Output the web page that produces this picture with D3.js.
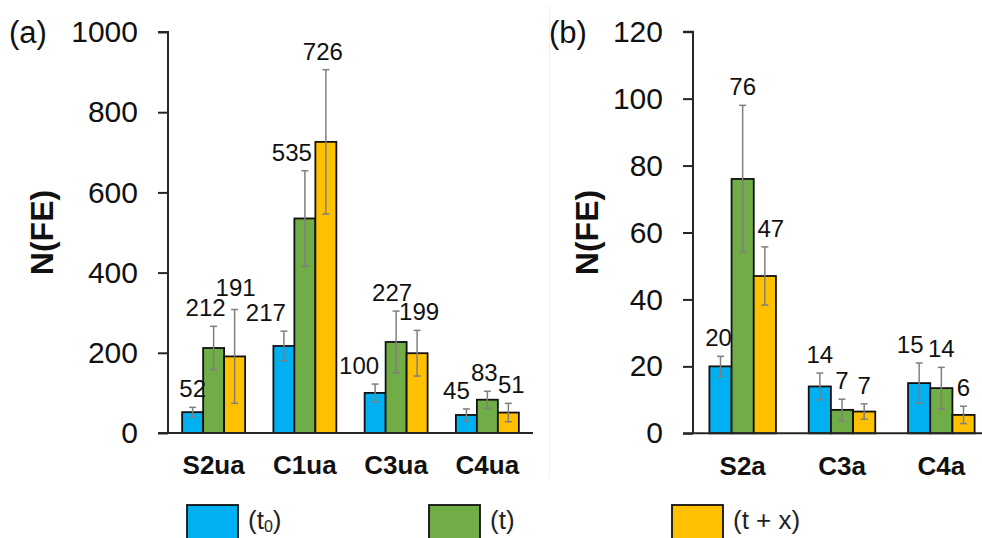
<!DOCTYPE html>
<html>
<head>
<meta charset="utf-8">
<script src="https://cdn.jsdelivr.net/npm/d3@7"></script>
<style>
  html, body { margin: 0; padding: 0; background: #fff; }
  svg { display: block; font-family: "Liberation Sans", Arial, sans-serif; }
</style>
</head>
<body>
<svg id="chart" width="982" height="538"></svg>
<script>
// ---------- data ----------
const seriesNames = ["(t0)", "(t)", "(t + x)"];
const seriesColors = ["#00B0F0", "#70AD47", "#FFC000"];

const catsA = ["S2ua", "C1ua", "C3ua", "C4ua"];
const t0A   = [52, 217, 100, 45];
const tA    = [212, 535, 227, 83];
const txA   = [191, 726, 199, 51];
const errT0A = [12, 37, 22, 15];
const errTA  = [54, 119, 77, 21];
const errTxA = [117, 180, 57, 23];
const ticksA = [0, 200, 400, 600, 800, 1000];

const catsB = ["S2a", "C3a", "C4a"];
const t0B   = [20, 14, 15];
const tB    = [76, 7, 13.5];
const txB   = [47, 6.5, 5.5];
const errT0B = [3, 4, 6];
const errTB  = [22, 3.2, 6.2];
const errTxB = [8.7, 2.3, 2.6];
const ticksB = [0, 20, 40, 60, 80, 100, 120];

// label nudges (px): x per category then series, and extra y lift
const nudgeA = [[0, -8, 1], [-18, -13, -3], [-16, -4, 2], [-10, -3, 3]];
const liftA  = [[0, 0, 3], [0, 0, 0], [0, 0, 0], [0, 0, 0]];
const nudgeB = [[-2, 0, 6], [0, 0, 0], [-9, 0, 0]];
const liftB  = [[0, 0, 0], [0, 0, 0], [0, 0, 0]];

const svg = d3.select("#chart");

// faint panel separator
svg.append("line").attr("x1", 549.5).attr("x2", 549.5).attr("y1", 5).attr("y2", 478)
  .attr("stroke", "#f0f0f0").attr("stroke-width", 1);

function panel(opts) {
  const { cats, series, errs, ticks, xRange, yRange, yMax, pad, nudge, lift, tag, tagX, titleX } = opts;
  const g = svg.append("g");
  const x = d3.scaleBand().domain(cats).range(xRange).paddingInner(pad).paddingOuter(pad / 2);
  const xi = d3.scaleBand().domain(d3.range(series.length)).range([0, x.bandwidth()]);
  const y = d3.scaleLinear().domain([0, yMax]).range(yRange);

  const rows = [];
  cats.forEach((c, ci) => series.forEach((s, si) => {
    rows.push({ c, ci, si, v: s[ci], e: errs[si][ci] });
  }));

  // bars
  g.selectAll("rect.bar").data(rows).join("rect")
    .attr("class", "bar")
    .attr("x", d => x(d.c) + xi(d.si))
    .attr("width", xi.bandwidth())
    .attr("y", d => y(d.v))
    .attr("height", d => y(0) - y(d.v))
    .attr("fill", d => seriesColors[d.si])
    .attr("stroke", "#111")
    .attr("stroke-width", 1.8);

  // error bars
  const eb = g.selectAll("g.err").data(rows).join("g").attr("class", "err")
    .attr("stroke", "#7f7f7f").attr("stroke-width", 1.5);
  const cx = d => x(d.c) + xi(d.si) + xi.bandwidth() / 2;
  eb.append("line").attr("x1", cx).attr("x2", cx)
    .attr("y1", d => y(d.v + d.e)).attr("y2", d => y(Math.max(0, d.v - d.e)));
  eb.append("line").attr("x1", d => cx(d) - 3.5).attr("x2", d => cx(d) + 3.5)
    .attr("y1", d => y(d.v + d.e)).attr("y2", d => y(d.v + d.e));
  eb.append("line").attr("x1", d => cx(d) - 3.5).attr("x2", d => cx(d) + 3.5)
    .attr("y1", d => y(Math.max(0, d.v - d.e))).attr("y2", d => y(Math.max(0, d.v - d.e)));

  // value labels
  g.selectAll("text.val").data(rows).join("text")
    .attr("class", "val")
    .attr("x", d => cx(d) + nudge[d.ci][d.si])
    .attr("y", d => y(d.v + d.e) - 10 - lift[d.ci][d.si])
    .attr("text-anchor", "middle")
    .attr("font-size", 24)
    .attr("fill", "#111")
    .text(d => Math.round(d.v));

  // y axis
  const ya = g.append("g").attr("transform", `translate(${xRange[0]},0)`)
    .call(d3.axisLeft(y).tickValues(ticks).tickSize(10).tickPadding(20).tickFormat(d3.format("d")));
  ya.select(".domain").attr("stroke", "#262626").attr("stroke-width", 2)
    .attr("d", `M-10,${yRange[1]}H0V${yRange[0]}`);
  ya.selectAll(".tick line").attr("stroke", "#262626").attr("stroke-width", 2);
  ya.selectAll(".tick text").attr("font-size", 30).attr("fill", "#111")
    .attr("font-family", "'Liberation Sans', Arial, sans-serif");

  // x axis
  const xa = g.append("g").attr("transform", `translate(0,${yRange[0]})`)
    .call(d3.axisBottom(x).tickSize(0).tickPadding(23));
  xa.select(".domain").attr("stroke", "#262626").attr("stroke-width", 2)
    .attr("d", `M${xRange[0] - 10},0H${xRange[1]}`);
  xa.selectAll(".tick text").attr("font-size", 26).attr("font-weight", "bold").attr("fill", "#111")
    .attr("font-family", "'Liberation Sans', Arial, sans-serif");

  // y title
  g.append("text")
    .attr("transform", `translate(${titleX},${(yRange[0] + yRange[1]) / 2}) rotate(-90)`)
    .attr("text-anchor", "middle")
    .attr("dy", "0.36em")
    .attr("font-size", 32).attr("font-weight", "bold").attr("fill", "#111")
    .text("N(FE)");

  // panel tag
  g.append("text").attr("x", tagX).attr("y", yRange[1]).attr("dy", "0.36em")
    .attr("font-size", 31).attr("fill", "#111").text(tag);
}

panel({
  cats: catsA, series: [t0A, tA, txA], errs: [errT0A, errTA, errTxA], ticks: ticksA,
  xRange: [168, 533], yRange: [433, 32], yMax: 1000, pad: 0.31, nudge: nudgeA, lift: liftA,
  tag: "(a)", tagX: 9, titleX: 41
});
panel({
  cats: catsB, series: [t0B, tB, txB], errs: [errT0B, errTB, errTxB], ticks: ticksB,
  xRange: [693, 991], yRange: [433.3, 31.7], yMax: 120, pad: 0.33, nudge: nudgeB, lift: liftB,
  tag: "(b)", tagX: 549, titleX: 586
});

// legend
const legendX = [187, 429, 672];
const lg = svg.append("g");
seriesNames.forEach((name, i) => {
  lg.append("rect").attr("x", legendX[i]).attr("y", 505).attr("width", 51).attr("height", 40)
    .attr("fill", seriesColors[i]).attr("stroke", "#111").attr("stroke-width", 1.8);
  const t = lg.append("text").attr("x", legendX[i] + 61).attr("y", 529)
    .attr("font-size", 26).attr("fill", "#222");
  if (i === 0) {
    t.append("tspan").text("(t");
    t.append("tspan").attr("font-size", 16).attr("dy", 3).text("0");
    t.append("tspan").attr("dy", -3).text(")");
  } else {
    t.text(name);
  }
});
</script>
</body>
</html>
